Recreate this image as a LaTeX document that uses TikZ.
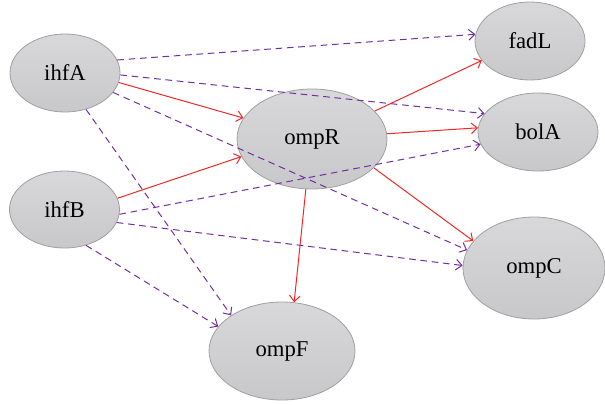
\documentclass[tikz,border=0pt]{standalone}
\usepackage{fontspec}
\setmainfont{Liberation Serif}
\usepackage[rgb]{xcolor}
\usepackage{tikz}
\usetikzlibrary{shapes.geometric,arrows.meta}

\definecolor{actred}{RGB}{240,40,40}
\definecolor{regpurple}{RGB}{112,48,160}
\definecolor{genetop}{RGB}{216,216,218}
\definecolor{genebot}{RGB}{200,200,203}
\definecolor{geneline}{RGB}{160,160,162}

\begin{document}
\begin{tikzpicture}[x=0.75pt, y=-0.75pt,
  gene/.style={ellipse, draw=geneline, line width=0.6pt,
    top color=genetop, bottom color=genebot, inner sep=0pt,
    font=\fontsize{17}{20}\selectfont},
  act/.style={draw=actred, line width=0.75pt,
    -{Straight Barb[length=4.5pt,width=8pt]}},
  reg/.style={draw=regpurple, line width=0.75pt, dash pattern=on 5pt off 3.5pt,
    -{Straight Barb[length=4.5pt,width=8pt]}}]

\useasboundingbox (0,0) rectangle (605,404);

% genes: name / x / y / width / height (in px)
 \foreach \name/\x/\y/\w/\h in {ihfA/65/73/110/78, ihfB/64.5/209.5/110/77,
   ompR/312/139/150/100, fadL/530/41/110/78, bolA/538/132/120/78,
   ompC/534/268/142/102, ompF/282/351/146/98}
  {
  \node[gene, minimum width=\w*0.75pt, minimum height=\h*0.75pt] (\name) at (\x,\y) {\name};
  }

% dashed regulation
 \foreach \a/\b in {ihfA.14/fadL.173, ihfA.358/bolA.161, ihfA.338/ompC.165,
   ihfA.300/ompF.145, ihfB.301/ompF.159, ihfB.355/bolA.192, ihfB.346/ompC.178}
  \draw[reg] (\a) -- (\b);

% red activation
 \foreach \a/\b in {ihfA.350/ompR.163, ihfB.12/ompR.194, ompR.24/fadL.202,
   ompR.4/bolA.176, ompR.335/ompC.156, ompR.263/ompF.76}
  \draw[act] (\a) -- (\b);

\end{tikzpicture}
\end{document}
